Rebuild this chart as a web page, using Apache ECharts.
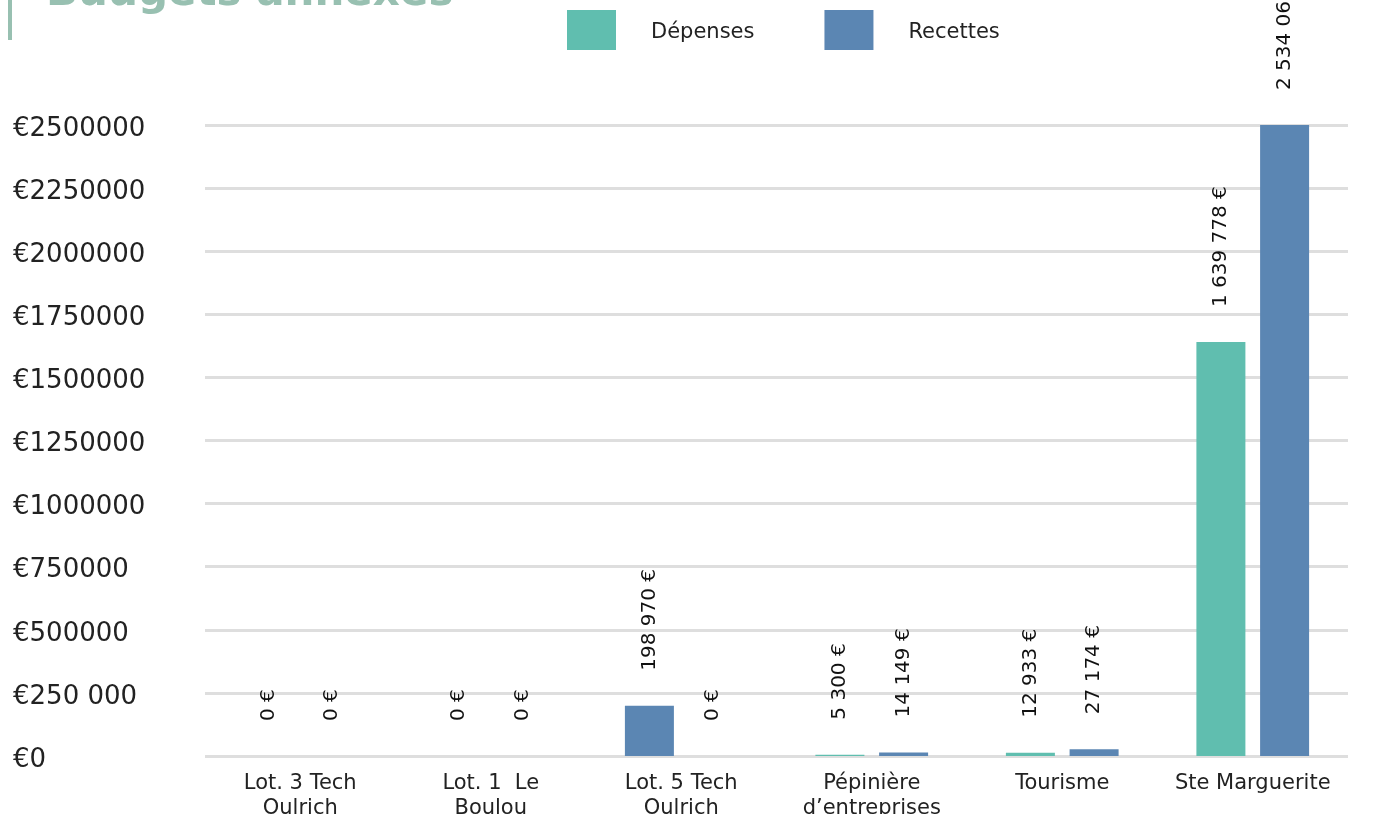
<!DOCTYPE html>
<html><head><meta charset="utf-8">
<script src="https://cdn.jsdelivr.net/npm/echarts@6/dist/echarts.min.js"></script>
<style>html,body{margin:0;padding:0;background:#fff}#c{width:1378px;height:814px}</style>
</head><body><div id="c"></div>
<script>
const categories = ['Lot. 3 Tech\nOulrich', 'Lot. 1  Le\nBoulou', 'Lot. 5 Tech\nOulrich', 'Pépinière\nd’entreprises', 'Tourisme', 'Ste Marguerite'];
const depenses = [0, 0, 198970, 5300, 12933, 1639778];
const recettes = [0, 0, 0, 14149, 27174, 2534061];
const yTickLabels = ['€0', '€250 000', '€500000', '€750000', '€1000000', '€1250000', '€1500000', '€1750000', '€2000000', '€2250000', '€2500000'];
const seriesNames = ['Dépenses', 'Recettes'];

const TEAL = '#60beaf';
const BLUE = '#5b86b3';
const FONT = 'DejaVu Sans';

function fmtEuro(v) {
  return String(v).replace(/\B(?=(\d{3})+(?!\d))/g, ' ') + ' €';
}

const labelCfg = {
  show: true, position: 'top', rotate: 90, align: 'left', verticalAlign: 'middle',
  distance: 35, fontSize: 20, color: '#111', fontFamily: FONT,
  formatter: p => fmtEuro(p.value)
};

const chart = echarts.init(document.getElementById('c'), null, {renderer: 'canvas'});
chart.setOption({
  backgroundColor: '#fff',
  animation: false,
  title: {
    text: 'Budgets annexes', left: 46, top: -27, padding: 0,
    textStyle: {fontFamily: FONT, fontWeight: 'bold', fontSize: 42, color: '#98c0b1'}
  },
  graphic: [{type: 'rect', left: 8, top: 0, shape: {width: 4, height: 40}, style: {fill: '#98c0b1'}}],
  legend: {
    left: 567, top: 10, padding: 0, itemWidth: 49, itemHeight: 40, itemGap: 70, icon: 'rect',
    data: seriesNames,
    formatter: n => '{t|' + n + '}',
    textStyle: {
      fontFamily: FONT, fontSize: 21, color: '#222', padding: [0, 0, 0, 30],
      rich: {t: {fontFamily: FONT, fontSize: 21, color: '#222', padding: [6, 0, 0, 0]}}
    }
  },
  grid: {left: 205, right: 30, top: 125, bottom: 58, outerBoundsMode: 'none', containLabel: false},
  xAxis: {
    type: 'category', data: categories,
    axisLine: {show: false}, axisTick: {show: false},
    axisLabel: {fontFamily: FONT, fontSize: 21, color: '#222', margin: 15, lineHeight: 25, interval: 0}
  },
  yAxis: {
    type: 'value', min: 0, max: 2500000, interval: 250000,
    axisLine: {show: false}, axisTick: {show: false},
    splitLine: {lineStyle: {color: '#dedede', width: 3}},
    axisLabel: {
      fontFamily: FONT, fontSize: 26, color: '#222', align: 'left', margin: 192,
      formatter: v => '{t|' + yTickLabels[Math.round(v / 250000)] + '}',
      rich: {t: {fontFamily: FONT, fontSize: 26, color: '#222', padding: [8, 0, 0, 0]}}
    }
  },
  series: [
    {
      name: seriesNames[0], type: 'bar', data: depenses, barWidth: 49, barGap: '30%',
      itemStyle: {color: p => (p.dataIndex === 2 ? BLUE : TEAL)},
      label: labelCfg
    },
    {
      name: seriesNames[1], type: 'bar', data: recettes, barWidth: 49, barGap: '30%',
      itemStyle: {color: BLUE},
      label: labelCfg
    }
  ],
  color: [TEAL, BLUE]
});
</script></body></html>
